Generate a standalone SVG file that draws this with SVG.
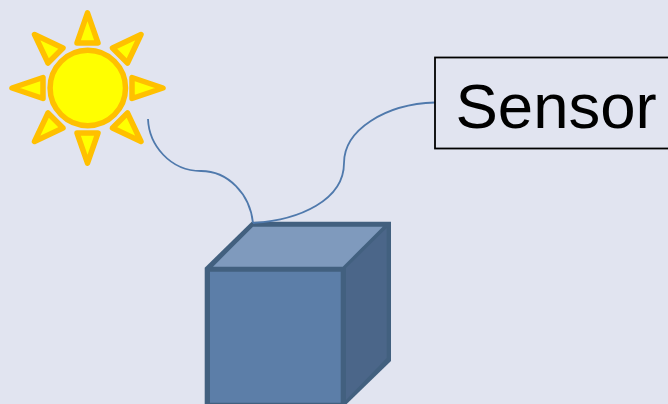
<svg xmlns="http://www.w3.org/2000/svg" width="668" height="404" viewBox="0 0 668 404">
<style>
.ray{fill:#ffff00;stroke:#ffc000;stroke-width:5.5;stroke-linejoin:round}
.edge{fill:none;stroke:#4f79ac;stroke-width:1.8}
</style>
<rect width="668" height="404" fill="#e1e4f0"/>
<g id="sun">
<circle cx="87.800" cy="88" r="37.700" fill="#ffff00" stroke="#ffc000" stroke-width="5.500"/>
<path class="ray" d="M87.500 12.800L98 43H77Z"/>
<path class="ray" d="M87.500 163.200L98 133H77Z"/>
<path class="ray" d="M12 88L43 77.500V98.500Z"/>
<path class="ray" d="M163 88L132 77.500V98.500Z"/>
<path class="ray" d="M34.500 34.500L63 48L48 63Z"/>
<path class="ray" d="M141 34.500L112.500 48L127.500 63Z"/>
<path class="ray" d="M34.500 141.500L63 128L48 113Z"/>
<path class="ray" d="M141 141.500L112.500 128L127.500 113Z"/>
</g>
<g id="cube">
<path d="M204.700 267.700L251.700 221.700H391V361L346.700 404H204.700Z" fill="#42607f"/>
<path d="M210 271.700H340.700V402.800H210Z" fill="#5c7ea8"/>
<path d="M253 226.700H382.700L342.700 266.700H213Z" fill="#7f9abd"/>
<path d="M346 268L386.700 228V358L346 400Z" fill="#4b6689"/>
</g>
<g id="connectors">
<path class="edge" d="M148 119C149 145 170 171 201 171C228 171 250 194 253 223"/>
<path class="edge" d="M253 223C300 220 344 200 344 163C344 130 385 104 435 102.500"/>
</g>
<g id="sensor">
<rect x="435" y="57.500" width="240" height="91" fill="none" stroke="#000" stroke-width="1.800"/>
<text x="455.500" y="127.500" font-family="Liberation Sans, Arial, sans-serif" font-size="63.500" fill="#000">Sensor</text>
</g>
</svg>
